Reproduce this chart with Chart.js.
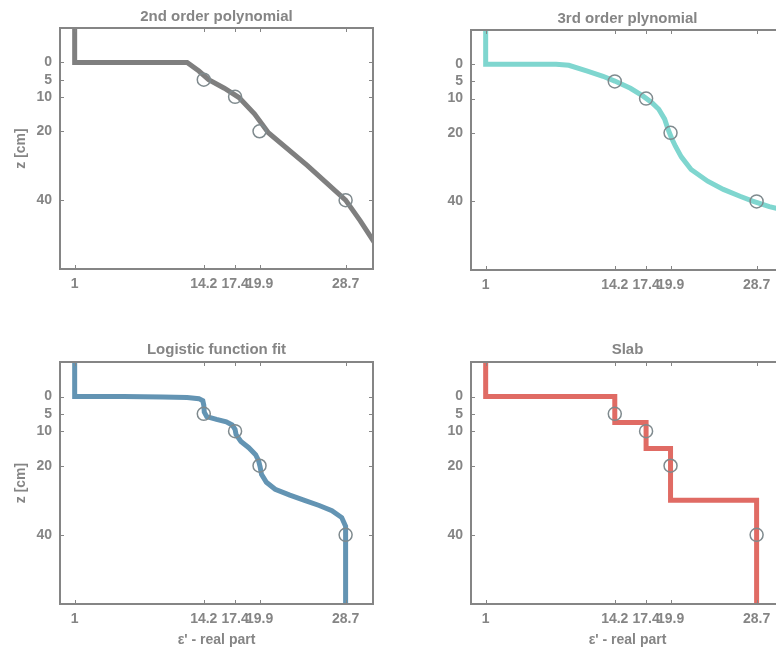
<!DOCTYPE html>
<html>
<head>
<meta charset="utf-8">
<script src="https://cdn.jsdelivr.net/npm/chart.js@4.4.1/dist/chart.umd.min.js"></script>
<style>
  html, body { margin: 0; padding: 0; background: #fff; overflow: hidden; }
  #wrap { position: relative; width: 776px; height: 652px; overflow: hidden; }
  canvas { position: absolute; }
</style>
</head>
<body>
<div id="wrap">
  <canvas id="poly2" width="390" height="300" style="left:0;top:0"></canvas>
  <canvas id="poly3" width="390" height="301" style="left:411px;top:0"></canvas>
  <canvas id="logistic" width="390" height="319" style="left:0;top:333px"></canvas>
  <canvas id="slab" width="390" height="319" style="left:411px;top:333px"></canvas>
</div>
<script>
// --- data (eps' along x, depth z [cm] along y) ---
const epsTicks = [1, 14.2, 17.4, 19.9, 28.7];
const zTicks = [0, 5, 10, 20, 40];

// measured points (open circles)
const measEps = [14.2, 17.4, 19.9, 28.7];
const measZ = [5, 10, 20, 40];

const poly2Eps = [1, 1, 12.5, 13.7, 14.7, 16.3, 17.8, 19.4, 20.8, 24.8, 28.7, 30.2, 31.8];
const poly2Z = [-12, 0, 0, 2.5, 5, 7.5, 10.2, 15, 20.4, 30, 40, 46, 53];

const poly3Eps = [1, 1, 5, 8.2, 9.5, 11.4, 13.0, 14.2, 15.8, 17.1, 18.0, 18.7, 19.3, 19.65, 20.0, 20.4, 21.0, 22.0, 23.7, 25.3, 27.0, 28.3, 30.0, 31.9, 33.5];
const poly3Z = [-12, 0, 0, 0, 0.3, 2.0, 3.5, 4.9, 7.0, 9.3, 11.2, 13.1, 16.0, 19, 21.5, 23.9, 27, 30.7, 34.1, 36.5, 38.5, 39.9, 41.5, 42.8, 44];

const logiEps = [1, 1, 6, 10, 12.5, 13.7, 14.1, 14.2, 14.25, 14.5, 15.5, 16.5, 17.1, 17.4, 17.5, 18.0, 18.8, 19.5, 19.8, 19.95, 20.1, 20.6, 21.5, 23.0, 24.5, 26.0, 27.3, 28.3, 28.7, 28.7, 28.7];
const logiZ = [-12, 0, 0, 0.1, 0.3, 0.6, 1.2, 2.5, 4.5, 5.8, 6.6, 7.3, 8.2, 9.5, 11, 13, 14.8, 16.8, 18.5, 20.2, 22.5, 24.8, 26.8, 28.5, 30, 31.5, 33, 35, 37.5, 40, 62];

const slabEps = [1, 1, 14.2, 14.2, 17.4, 17.4, 19.9, 19.9, 28.7, 28.7];
const slabZ = [-12, 0, 0, 7.5, 7.5, 15, 15, 30, 30, 62];

// --- styling ---
const grey = '#858585';
const fontFamily = "'Liberation Sans', Arial, sans-serif";
const tickFont = { family: fontFamily, size: 14, weight: 'bold' };

const zip = (xs, ys) => xs.map((v, i) => ({ x: v, y: ys[i] }));

// box round the axes with inward tick marks (matlab look)
const boxTicks = {
    id: 'boxTicks',
    afterDraw(chart) {
        const { ctx, chartArea: a, scales: { x, y } } = chart;
        ctx.save();
        ctx.strokeStyle = grey;
        ctx.lineWidth = 1;
        ctx.beginPath();
        x.ticks.forEach(t => {
            const px = Math.round(x.getPixelForValue(t.value)) + 0.5;
            ctx.moveTo(px, a.bottom); ctx.lineTo(px, a.bottom - 4);
            ctx.moveTo(px, a.top); ctx.lineTo(px, a.top + 4);
        });
        y.ticks.forEach(t => {
            const py = Math.round(y.getPixelForValue(t.value)) + 0.5;
            ctx.moveTo(a.left, py); ctx.lineTo(a.left + 4, py);
            ctx.moveTo(a.right, py); ctx.lineTo(a.right - 4, py);
        });
        ctx.stroke();
        ctx.lineWidth = 2;
        ctx.strokeRect(a.left, a.top, a.right - a.left, a.bottom - a.top);
        ctx.restore();
    }
};

function makePanel(id, title, eps, z, color, opts) {
    new Chart(document.getElementById(id), {
        type: 'scatter',
        data: {
            datasets: [
                {
                    data: zip(measEps, measZ),
                    showLine: false,
                    pointRadius: 6.5,
                    pointBorderWidth: 1.5,
                    pointBorderColor: '#7f8a8e',
                    pointBackgroundColor: 'rgba(0,0,0,0)'
                },
                {
                    data: zip(eps, z),
                    showLine: true,
                    borderColor: color,
                    borderWidth: 5,
                    pointRadius: 0,
                    tension: 0,
                    clip: 0
                }
            ]
        },
        options: {
            responsive: false,
            animation: false,
            events: [],
            layout: { padding: { left: 0, right: 17, top: 0, bottom: 0 } },
            plugins: {
                legend: { display: false },
                tooltip: { enabled: false },
                title: {
                    display: true,
                    fullSize: false,
                    text: title,
                    color: grey,
                    font: { family: fontFamily, size: 15, weight: 'bold' },
                    padding: opts.titlePad
                }
            },
            scales: {
                x: {
                    type: 'linear',
                    min: -0.5,
                    max: 31.5,
                    afterBuildTicks: s => { s.ticks = epsTicks.map(v => ({ value: v })); },
                    afterFit: s => { s.height = opts.xHeight; },
                    grid: { display: false, drawTicks: false },
                    border: { display: false },
                    ticks: {
                        autoSkip: false, maxRotation: 0, padding: 7,
                        color: grey, font: tickFont,
                        callback: v => String(v)
                    },
                    title: {
                        display: opts.xTitle,
                        text: "\u03b5' - real part",
                        color: grey,
                        font: tickFont,
                        padding: { top: 0, bottom: 3 }
                    }
                },
                y: {
                    type: 'linear',
                    reverse: true,
                    min: -10,
                    max: 60,
                    afterBuildTicks: s => { s.ticks = zTicks.map(v => ({ value: v })); },
                    afterFit: s => { s.width = 60; },
                    grid: { display: false, drawTicks: false },
                    border: { display: false },
                    ticks: {
                        autoSkip: false, padding: 8,
                        color: grey, font: tickFont,
                        callback: v => String(v)
                    },
                    title: {
                        display: opts.yTitle,
                        text: 'z [cm]',
                        color: grey,
                        font: tickFont,
                        padding: { top: 13, bottom: 0 }
                    }
                }
            }
        },
        plugins: [boxTicks]
    });
}

makePanel('poly2', '2nd order polynomial', poly2Eps, poly2Z, '#7f7f7f',
    { titlePad: { top: 8, bottom: 2 }, xHeight: 31, xTitle: false, yTitle: true });
makePanel('poly3', '3rd order plynomial', poly3Eps, poly3Z, '#7fd6cf',
    { titlePad: { top: 10, bottom: 2 }, xHeight: 31, xTitle: false, yTitle: false });
makePanel('logistic', 'Logistic function fit', logiEps, logiZ, '#6394b3',
    { titlePad: { top: 8, bottom: 3 }, xHeight: 48, xTitle: true, yTitle: true });
makePanel('slab', 'Slab', slabEps, slabZ, '#e06b64',
    { titlePad: { top: 8, bottom: 3 }, xHeight: 48, xTitle: true, yTitle: false });
</script>
</body>
</html>
